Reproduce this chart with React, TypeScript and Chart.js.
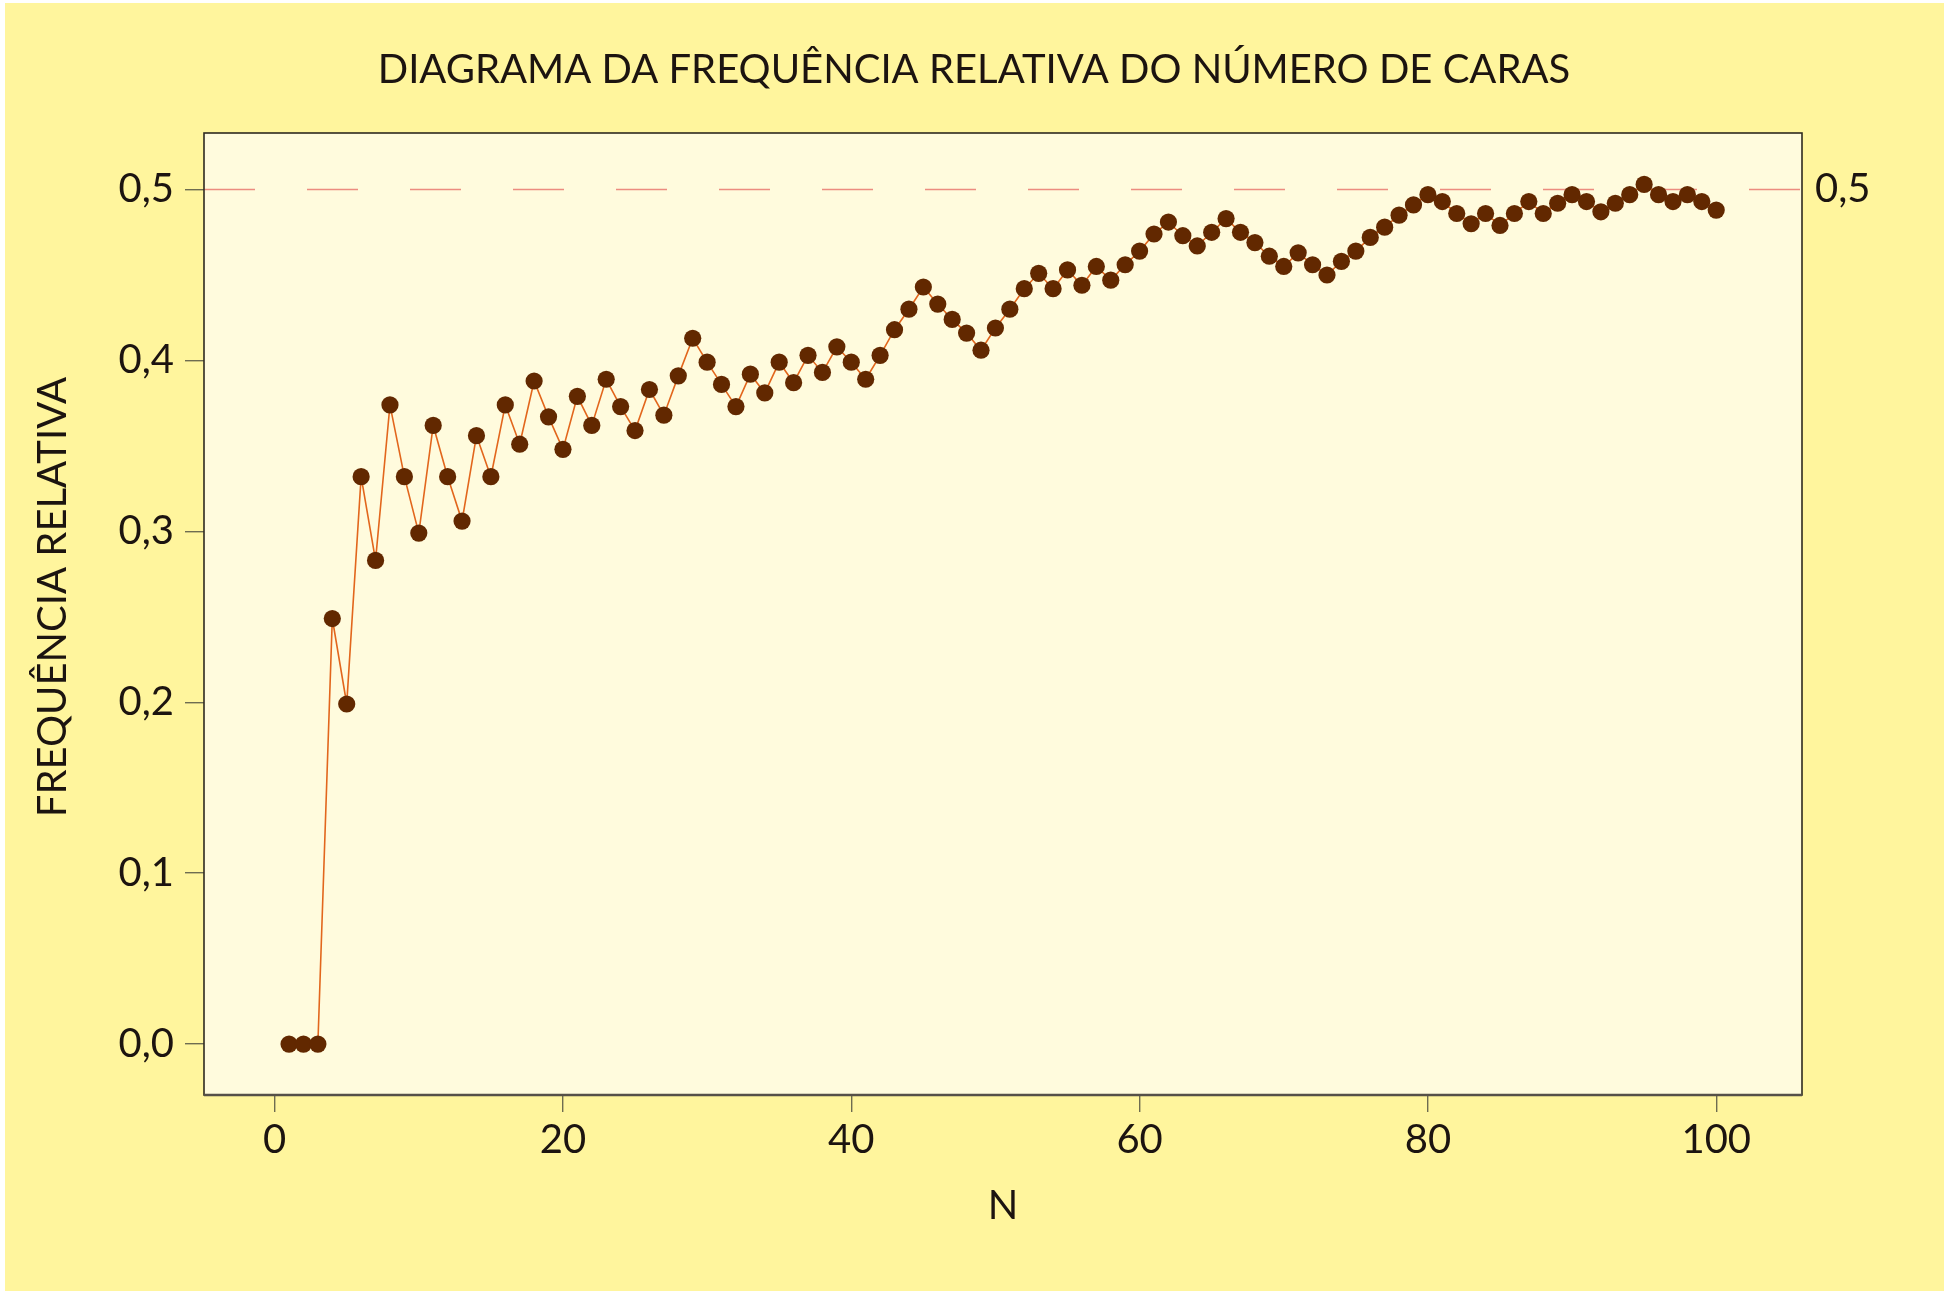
import React, { useEffect, useRef } from "react";
import { Chart, registerables } from "chart.js";

Chart.register(...registerables);

const TITLE = "DIAGRAMA DA FREQUÊNCIA RELATIVA DO NÚMERO DE CARAS";
const X_TITLE = "N";
const Y_TITLE = "FREQUÊNCIA RELATIVA";

const N_VALUES = [
  1, 2, 3, 4, 5, 6, 7, 8, 9, 10, 11, 12, 13, 14, 15, 16, 17, 18, 19, 20,
  21, 22, 23, 24, 25, 26, 27, 28, 29, 30, 31, 32, 33, 34, 35, 36, 37, 38, 39, 40,
  41, 42, 43, 44, 45, 46, 47, 48, 49, 50, 51, 52, 53, 54, 55, 56, 57, 58, 59, 60,
  61, 62, 63, 64, 65, 66, 67, 68, 69, 70, 71, 72, 73, 74, 75, 76, 77, 78, 79, 80,
  81, 82, 83, 84, 85, 86, 87, 88, 89, 90, 91, 92, 93, 94, 95, 96, 97, 98, 99, 100,
];

const REL_FREQ = [
  0, 0, 0, 0.249, 0.199, 0.332, 0.283, 0.374, 0.332, 0.299,
  0.362, 0.332, 0.306, 0.356, 0.332, 0.374, 0.351, 0.388, 0.367, 0.348,
  0.379, 0.362, 0.389, 0.373, 0.359, 0.383, 0.368, 0.391, 0.413, 0.399,
  0.386, 0.373, 0.392, 0.381, 0.399, 0.387, 0.403, 0.393, 0.408, 0.399,
  0.389, 0.403, 0.418, 0.43, 0.443, 0.433, 0.424, 0.416, 0.406, 0.419,
  0.43, 0.442, 0.451, 0.442, 0.453, 0.444, 0.455, 0.447, 0.456, 0.464,
  0.474, 0.481, 0.473, 0.467, 0.475, 0.483, 0.475, 0.469, 0.461, 0.455,
  0.463, 0.456, 0.45, 0.458, 0.464, 0.472, 0.478, 0.485, 0.491, 0.497,
  0.493, 0.486, 0.48, 0.486, 0.479, 0.486, 0.493, 0.486, 0.492, 0.497,
  0.493, 0.487, 0.492, 0.497, 0.503, 0.497, 0.493, 0.497, 0.493, 0.488,
];

const X_TICKS = [0, 20, 40, 60, 80, 100];
const Y_TICKS = [0, 0.1, 0.2, 0.3, 0.4, 0.5];
const RIGHT_TICKS = [0.5];
const REFERENCE_VALUE = 0.5;

const FONT = "Lato, 'Noto Sans', sans-serif";
const TEXT_COLOR = "#1c1410";
const OUTER_BG = "#FFF59D";
const INNER_BG = "#FFFBDD";
const POINT_COLOR = "#622800";
const LINE_COLOR = "#E2661C";
const REF_COLOR = "#EC8C80";
const TICK_COLOR = "#6e6c50";
const FRAME_COLOR = "#2e2a20";

const fmtComma = (v: number) => Number(v).toFixed(1).replace(".", ",");

const backgroundPlugin = {
  id: "bgPlugin",
  beforeDraw(chart: any) {
    const { ctx, width, height, chartArea } = chart;
    ctx.save();
    ctx.fillStyle = "#ffffff";
    ctx.fillRect(0, 0, width, height);
    ctx.fillStyle = OUTER_BG;
    ctx.fillRect(5, 3, width - 9, height - 13);
    ctx.fillStyle = INNER_BG;
    ctx.fillRect(chartArea.left, chartArea.top, chartArea.right - chartArea.left, chartArea.bottom - chartArea.top);
    ctx.restore();
  },
};

const refLinePlugin = {
  id: "refLine",
  beforeDatasetsDraw(chart: any) {
    const { ctx, chartArea, scales } = chart;
    const y = scales.y.getPixelForValue(REFERENCE_VALUE);
    ctx.save();
    ctx.strokeStyle = REF_COLOR;
    ctx.lineWidth = 1.6;
    ctx.setLineDash([51, 52]);
    ctx.beginPath();
    ctx.moveTo(chartArea.left, y);
    ctx.lineTo(chartArea.right, y);
    ctx.stroke();
    ctx.restore();
  },
};

const yTitlePlugin = {
  id: "yTitle",
  afterDraw(chart: any) {
    const { ctx } = chart;
    ctx.save();
    ctx.translate(53, 597);
    ctx.rotate(-Math.PI / 2);
    ctx.fillStyle = TEXT_COLOR;
    ctx.font = `40px ${FONT}`;
    ctx.textAlign = "center";
    ctx.textBaseline = "middle";
    ctx.fillText(Y_TITLE, 0, 0);
    ctx.restore();
  },
};

const framePlugin = {
  id: "frame",
  afterDatasetsDraw(chart: any) {
    const { ctx, chartArea } = chart;
    ctx.save();
    ctx.strokeStyle = FRAME_COLOR;
    ctx.lineWidth = 1.6;
    ctx.strokeRect(chartArea.left, chartArea.top, chartArea.right - chartArea.left, chartArea.bottom - chartArea.top);
    ctx.strokeStyle = "#555048";
    ctx.lineWidth = 2.4;
    ctx.beginPath();
    ctx.moveTo(chartArea.left, chartArea.bottom);
    ctx.lineTo(chartArea.right, chartArea.bottom);
    ctx.stroke();
    ctx.restore();
  },
};

export default function App() {
  const canvasRef = useRef<HTMLCanvasElement | null>(null);

  useEffect(() => {
    document.body.style.margin = "0";
    const canvas = canvasRef.current;
    if (!canvas) return;
    const points = N_VALUES.map((n, i) => ({ x: n, y: REL_FREQ[i] }));
    const chart = new Chart(canvas, {
      type: "line",
      data: {
        datasets: [
          {
            data: points,
            borderColor: LINE_COLOR,
            borderWidth: 1.6,
            pointRadius: 8.6,
            pointHoverRadius: 8.6,
            pointBackgroundColor: POINT_COLOR,
            pointBorderWidth: 0,
            pointBorderColor: POINT_COLOR,
            tension: 0,
            fill: false,
          },
        ],
      },
      options: {
        responsive: false,
        animation: false,
        events: [],
        layout: { padding: 0 },
        plugins: {
          legend: { display: false },
          tooltip: { enabled: false },
          title: {
            display: true,
            text: TITLE,
            color: TEXT_COLOR,
            font: { family: FONT, size: 40, weight: "normal", lineHeight: 1.2 },
            padding: { top: 46, bottom: 39 },
          },
        },
        scales: {
          x: {
            type: "linear",
            min: -4.9,
            max: 105.95,
            afterBuildTicks: (s: any) => {
              s.ticks = X_TICKS.map((v) => ({ value: v }));
            },
            afterFit: (s: any) => {
              s.height = 206;
            },
            border: { display: false },
            grid: {
              drawOnChartArea: false,
              drawTicks: true,
              tickLength: 17,
              color: TICK_COLOR,
              lineWidth: 1.4,
            },
            ticks: {
              color: TEXT_COLOR,
              font: { family: FONT, size: 40 },
              padding: 4,
              maxRotation: 0,
              autoSkip: false,
              callback: (v: any) => String(v),
            },
            title: {
              display: true,
              text: X_TITLE,
              color: TEXT_COLOR,
              font: { family: FONT, size: 40, lineHeight: 1.2 },
              padding: { top: 0, bottom: 71 },
            },
          },
          y: {
            type: "linear",
            position: "left",
            min: -0.0298,
            max: 0.5331,
            afterBuildTicks: (s: any) => {
              s.ticks = Y_TICKS.map((v) => ({ value: v }));
            },
            afterFit: (s: any) => {
              s.width = 204;
            },
            border: { display: false },
            grid: {
              drawOnChartArea: false,
              drawTicks: true,
              tickLength: 19,
              color: TICK_COLOR,
              lineWidth: 1.4,
            },
            ticks: {
              color: TEXT_COLOR,
              font: { family: FONT, size: 40 },
              padding: 11,
              autoSkip: false,
              callback: (v: any) => fmtComma(v),
            },
            title: { display: false },
          },
          y2: {
            type: "linear",
            position: "right",
            min: -0.0298,
            max: 0.5331,
            afterBuildTicks: (s: any) => {
              s.ticks = RIGHT_TICKS.map((v) => ({ value: v }));
            },
            afterFit: (s: any) => {
              s.width = 146;
            },
            border: { display: false },
            grid: { display: false, drawTicks: false },
            ticks: {
              color: TEXT_COLOR,
              font: { family: FONT, size: 40 },
              padding: 13,
              autoSkip: false,
              callback: (v: any) => fmtComma(v),
            },
          },
        },
      },
      plugins: [backgroundPlugin, refLinePlugin, framePlugin, yTitlePlugin],
    } as any);
    return () => chart.destroy();
  }, []);

  return (
    <canvas
      ref={canvasRef}
      width={1948}
      height={1301}
      style={{ display: "block", width: 1948, height: 1301 }}
    />
  );
}
